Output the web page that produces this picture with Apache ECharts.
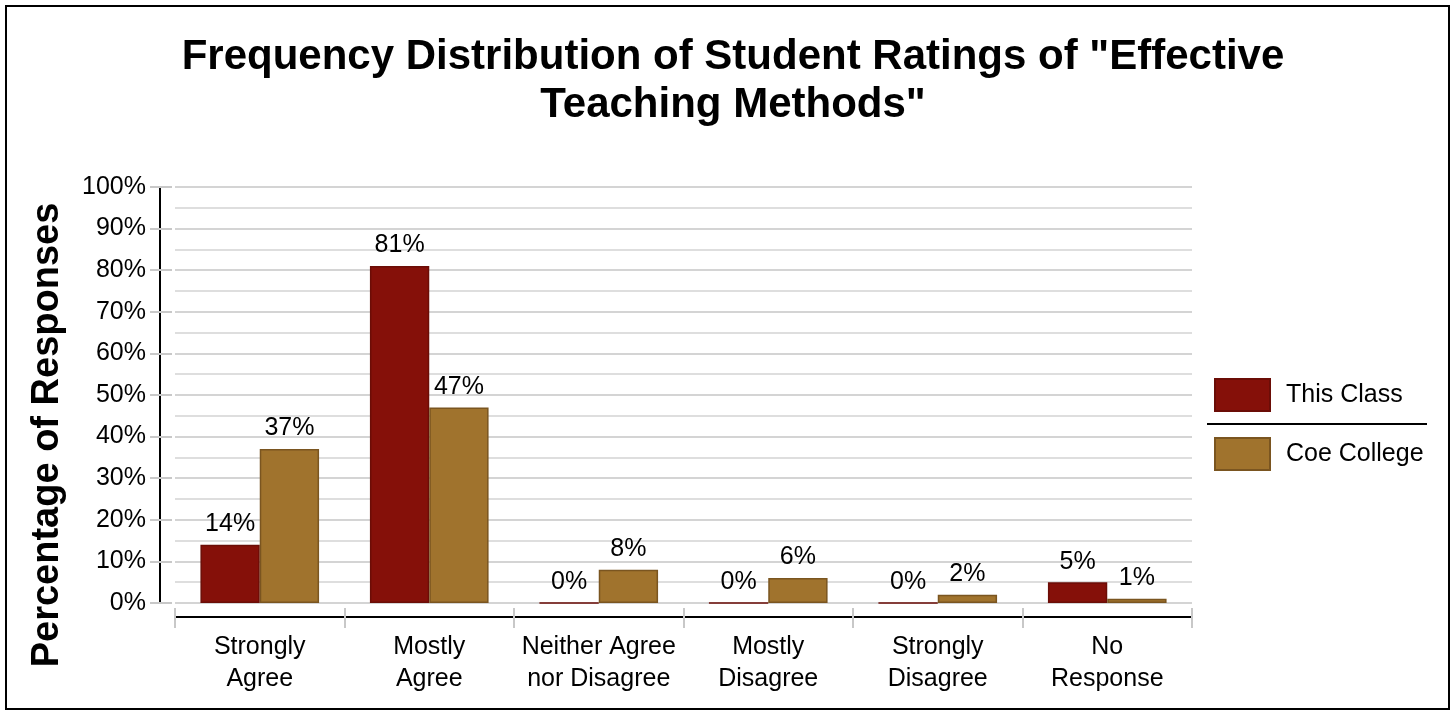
<!DOCTYPE html>
<html><head><meta charset="utf-8">
<script src="https://cdn.jsdelivr.net/npm/echarts@6/dist/echarts.min.js"></script>
<style>html,body{margin:0;padding:0;background:#fff}#c{width:1455px;height:715px}</style>
</head><body><div id="c"></div>
<script>
const categories = ['Strongly\nAgree', 'Mostly\nAgree', 'Neither Agree\nnor Disagree', 'Mostly\nDisagree', 'Strongly\nDisagree', 'No\nResponse'];
const thisClass = [14, 81, 0, 0, 0, 5];
const coeCollege = [37, 47, 8, 6, 2, 1];
const seriesNames = ['This Class', 'Coe College'];
const titleText = 'Frequency Distribution of Student Ratings of "Effective\nTeaching Methods"';
const yAxisTitle = 'Percentage of Responses';

const FONT = 'Liberation Sans, Arial, sans-serif';
const chart = echarts.init(document.getElementById('c'));
const labelCfg = {show: true, position: 'top', distance: 8, formatter: '{c}%', color: '#000', fontSize: 25, fontFamily: FONT};
chart.setOption({
  animation: false,
  title: {text: titleText, left: 728, top: 28, textAlign: 'center',
    textStyle: {fontSize: 42, fontWeight: 'bold', fontFamily: FONT, color: '#000', lineHeight: 48}},
  legend: {orient: 'vertical', left: 1214, top: 378, padding: 0, itemWidth: 55, itemHeight: 32, itemGap: 25, icon: 'rect',
    textStyle: {fontSize: 25, fontFamily: FONT, color: '#000', padding: [0, 0, 0, 11]},
    data: seriesNames},
  grid: {left: 175, right: 263, top: 187, bottom: 112},
  xAxis: [{type: 'category', data: categories, offset: 14,
    axisLine: {onZero: false, lineStyle: {color: '#000', width: 2}},
    axisTick: {show: true, length: 11, lineStyle: {color: '#c8c8c8', width: 2}},
    axisLabel: {fontSize: 25, fontFamily: FONT, color: '#000', lineHeight: 32, margin: 14, interval: 0}},
   {type: 'category', data: categories, position: 'bottom', offset: 14,
    axisLine: {show: false, onZero: false}, axisLabel: {show: false},
    axisTick: {show: true, inside: true, length: 9, lineStyle: {color: '#c8c8c8', width: 2}}}],
  yAxis: [{type: 'value', min: 0, max: 100, interval: 10, offset: 15,
    axisLine: {show: true, lineStyle: {color: '#000', width: 2}},
    axisTick: {show: true, length: 10, lineStyle: {color: '#c8c8c8', width: 2}},
    axisLabel: {formatter: '{value}%', fontSize: 25, fontFamily: FONT, color: '#000', margin: 14},
    splitLine: {show: true, lineStyle: {color: '#d4d4d4', width: 2}},
    minorTick: {show: false, splitNumber: 2},
    minorSplitLine: {show: true, lineStyle: {color: '#dedede', width: 2}}},
   {type: 'value', min: 0, max: 100, interval: 10, offset: 15, position: 'left',
    axisLine: {show: false}, axisLabel: {show: false}, splitLine: {show: false},
    axisTick: {show: true, inside: true, length: 12, lineStyle: {color: '#c8c8c8', width: 2}}}],
  series: [
    {name: seriesNames[0], type: 'bar', data: thisClass, barGap: '0%', barCategoryGap: '30%',
     itemStyle: {color: '#851009', borderColor: '#6b0d07', borderWidth: 1.5}, label: labelCfg},
    {name: seriesNames[1], type: 'bar', data: coeCollege,
     itemStyle: {color: '#A0732D', borderColor: '#7a5520', borderWidth: 1.5}, label: labelCfg}
  ],
  graphic: [
    {type: 'rect', shape: {x: 6, y: 6, width: 1443, height: 703}, style: {fill: 'none', stroke: '#000', lineWidth: 2}, z: 100},
    {type: 'line', shape: {x1: 1207, y1: 424, x2: 1427, y2: 424}, style: {stroke: '#000', lineWidth: 2}},
    {type: 'text', x: 48, y: 435, rotation: Math.PI / 2,
     style: {text: yAxisTitle, fontSize: 38, fontWeight: 'bold', fontFamily: FONT, fill: '#000', textAlign: 'center', textVerticalAlign: 'middle'}}
  ]
});
</script></body></html>
